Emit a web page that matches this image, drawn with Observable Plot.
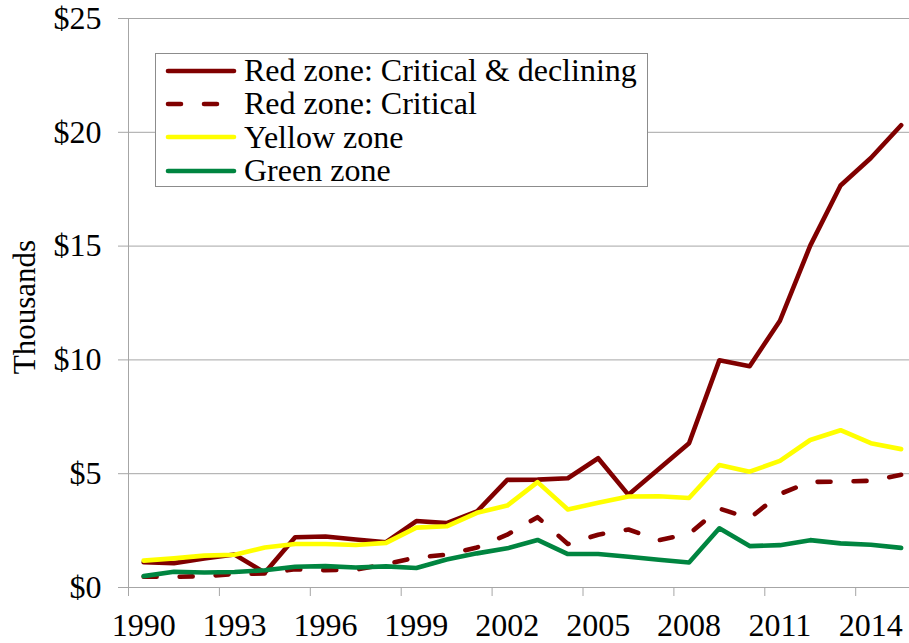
<!DOCTYPE html>
<html>
<head>
<meta charset="utf-8">
<script src="https://cdn.jsdelivr.net/npm/d3@7"></script>
<script src="https://cdn.jsdelivr.net/npm/@observablehq/plot@0.6"></script>
<style>
  html, body { margin: 0; padding: 0; background: #fff; }
  #wrap { position: relative; width: 909px; height: 643px; overflow: hidden; font-family: "Liberation Serif", "Times New Roman", serif; }
  #legend { position: absolute; left: 155px; top: 53px; width: 491px; height: 132px; border: 1px solid #8c8c8c; background: #fff; }
  .row { position: absolute; left: 0; height: 33px; display: flex; align-items: center; }
  .row svg { margin-left: 9px; margin-right: 7px; }
  .row span { font-size: 32px; line-height: 33px; color: #000; white-space: nowrap; }
</style>
</head>
<body>
<div id="wrap"><div id="legend"></div></div>
<script>
const years = [1990,1991,1992,1993,1994,1995,1996,1997,1998,1999,2000,2001,2002,2003,2004,2005,2006,2007,2008,2009,2010,2011,2012,2013,2014,2015];
const redCriticalDeclining = [1.11,1.07,1.27,1.45,0.65,2.21,2.24,2.11,1.99,2.92,2.83,3.34,4.73,4.74,4.80,5.68,4.07,5.21,6.34,9.98,9.72,11.72,15.02,17.66,18.87,20.31];
const redCritical = [0.47,0.47,0.50,0.59,0.62,0.80,0.76,0.78,1.03,1.32,1.44,1.76,2.32,3.09,1.91,2.32,2.55,2.08,2.35,3.47,3.04,4.11,4.64,4.65,4.69,4.95];
const yellowZone = [1.18,1.28,1.40,1.44,1.76,1.91,1.91,1.87,1.96,2.63,2.69,3.28,3.60,4.63,3.43,3.72,4.00,4.01,3.93,5.38,5.09,5.56,6.48,6.91,6.34,6.08];
const greenZone = [0.50,0.69,0.66,0.68,0.76,0.91,0.94,0.88,0.93,0.86,1.23,1.50,1.72,2.09,1.47,1.47,1.35,1.22,1.10,2.60,1.82,1.86,2.08,1.94,1.88,1.74];

const seriesNames = ["Red zone: Critical & declining", "Red zone: Critical", "Yellow zone", "Green zone"];
const seriesColors = ["#800000", "#800000", "#ffff00", "#008540"];
const seriesDash = [null, "13,23", null, null];
const seriesValues = [redCriticalDeclining, redCritical, yellowZone, greenZone];

const xTickLabels = [1990,1993,1996,1999,2002,2005,2008,2011,2014];
const xTickMarks = [1989.5,1992.5,1995.5,1998.5,2001.5,2004.5,2007.5,2010.5,2013.5];
const yTicks = [0,5,10,15,20,25];
const yTitle = "Thousands";

const xDomain = [1989.5, 1989.5 + 781 / 30.3];

const gridColor = "#a6a6a6";

const lineMarks = seriesValues.map((vals, i) =>
  Plot.line(years.map((yr, j) => ({year: yr, value: vals[j]})), {
    x: "year", y: "value",
    stroke: seriesColors[i], strokeWidth: 4.6,
    strokeDasharray: seriesDash[i] || undefined,
    strokeLinecap: "round", strokeLinejoin: "round"
  })
);

const chart = Plot.plot({
  width: 909, height: 643,
  marginLeft: 128, marginRight: 0, marginTop: 18, marginBottom: 56,
  x: {domain: xDomain},
  y: {domain: [0, 25]},
  style: {fontFamily: '"Liberation Serif", "Times New Roman", serif', fontSize: "32px", color: "#000", background: "#fff", overflow: "visible"},
  marks: [
    Plot.gridY(yTicks, {stroke: gridColor, strokeOpacity: 1, strokeWidth: 1}),
    Plot.ruleX([xDomain[0]], {stroke: gridColor, strokeWidth: 1}),
    Plot.axisY(yTicks, {tickFormat: d => "$" + d, tickSize: 10, tickPadding: 17, stroke: gridColor, label: null}),
    Plot.axisX(xTickMarks, {tickFormat: () => "", tickSize: 9, stroke: gridColor, label: null}),
    Plot.axisX(xTickLabels, {tickFormat: d => String(d), tickSize: 0, tickPadding: 26, label: null}),
    Plot.text([yTitle], {text: d => d, frameAnchor: "left", textAnchor: "middle", lineAnchor: "middle", rotate: -90, dx: -103, dy: 4, fontSize: 31}),
    ...lineMarks
  ]
});
document.getElementById("wrap").prepend(chart);

const legend = document.getElementById("legend");
seriesNames.forEach((name, i) => {
  const row = document.createElement("div");
  row.className = "row";
  row.style.top = (0 + i * 33.4) + "px";
  const dash = seriesDash[i] ? `stroke-dasharray="${seriesDash[i]}"` : "";
  row.innerHTML = `<svg width="72" height="10"><line x1="3" y1="5" x2="69" y2="5" stroke="${seriesColors[i]}" stroke-width="4.6" stroke-linecap="round" ${dash}/></svg><span>${name}</span>`;
  legend.appendChild(row);
});
</script>
</body>
</html>
